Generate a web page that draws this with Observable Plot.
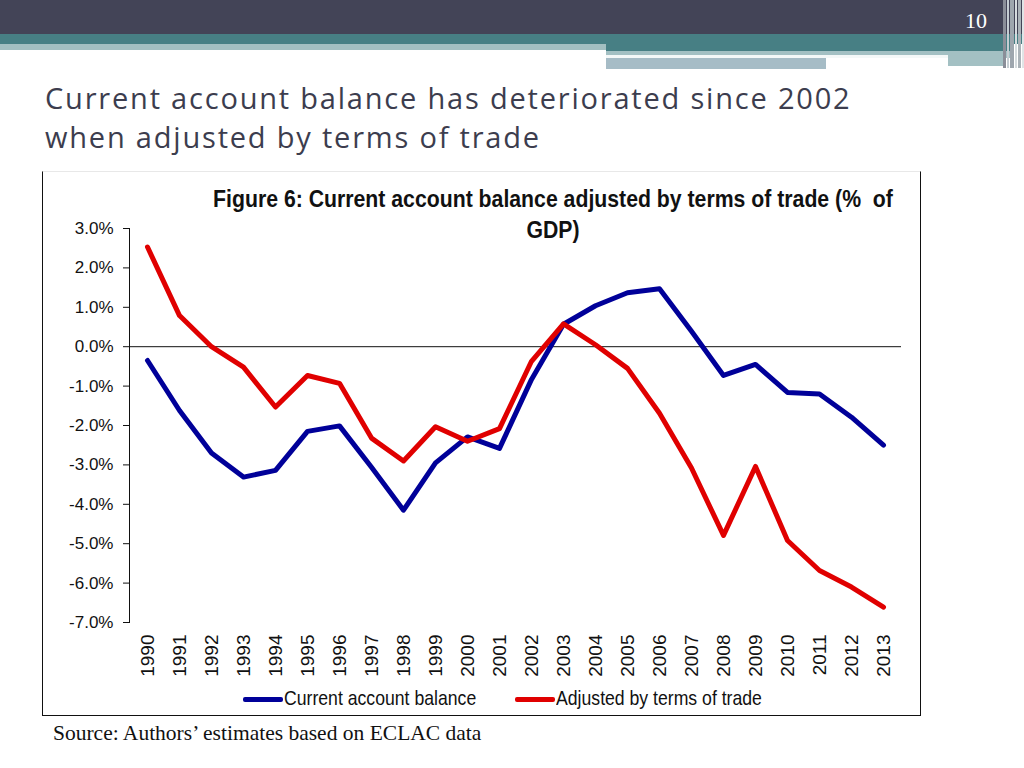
<!DOCTYPE html>
<html>
<head>
<meta charset="utf-8">
<script src="https://cdn.jsdelivr.net/npm/d3@7"></script>
<script src="https://cdn.jsdelivr.net/npm/@observablehq/plot@0.6"></script>
<style>
  html, body { margin: 0; padding: 0; background: #fff; }
  body { width: 1024px; height: 768px; position: relative; overflow: hidden; }
  .abs { position: absolute; }
  #title { left: 45px; top: 78px; font-family: "Open Sans", sans-serif; font-size: 29px; line-height: 39px; letter-spacing: 1.8px; color: #3c3d4e; white-space: nowrap; }
  #box { left: 42px; top: 171px; width: 877px; height: 543px; border: 1px solid #111; border-top-color: #e8e8e8; background: #fff; }
  .ctitle { font-family: "Liberation Sans", Arial, sans-serif; font-weight: bold; font-size: 24px; color: #111; white-space: pre; text-align: center; width: 1000px; transform: scaleX(0.885); transform-origin: center; }
  .leg { font-family: "Liberation Sans", Arial, sans-serif; font-size: 21px; color: #111; white-space: nowrap; transform: scaleX(0.84); transform-origin: left center; }
  .sw { height: 5px; border-radius: 2px; }
  #source { left: 53px; top: 721px; font-family: "Liberation Serif", serif; font-size: 21.5px; color: #111; white-space: nowrap; }
  #plot svg text { fill: #111; }
</style>
</head>
<body>
<!-- slide decorations -->
<div class="abs" style="left:0;top:0;width:1024px;height:34px;background:#434457"></div>
<div class="abs" style="left:0;top:34px;width:1024px;height:10px;background:#477f84"></div>
<div class="abs" style="left:0;top:44px;width:606px;height:6px;background:#a3bfc1"></div>
<div class="abs" style="left:606px;top:44px;width:406px;height:7px;background:#477f84"></div>
<div class="abs" style="left:606px;top:51px;width:406px;height:7px;background:#a3c0c3"></div>
<div class="abs" style="left:606px;top:55px;width:342px;height:3px;background:#f4f8f8"></div>
<div class="abs" style="left:606px;top:58px;width:220px;height:11px;background:#a6bcc6"></div>
<div class="abs" style="left:948px;top:58px;width:57px;height:8px;background:#a3c0c3"></div>
<div class="abs" style="left:1003px;top:0;width:3px;height:68px;background:#8a8e98"></div>
<div class="abs" style="left:1007px;top:0;width:2px;height:68px;background:#c5cdd2"></div>
<div class="abs" style="left:1010px;top:0;width:4px;height:68px;background:#9ea6ae"></div>
<div class="abs" style="left:1015px;top:0;width:2px;height:68px;background:#d6dcdf"></div>
<div class="abs" style="left:1018px;top:0;width:3px;height:68px;background:#aab2b8"></div>
<div class="abs" style="left:1022px;top:0;width:2px;height:68px;background:#e0e4e6"></div>
<div class="abs" style="left:965px;top:8px;font-family:'Liberation Serif',serif;font-size:22px;color:#fff;">10</div>

<div id="title" class="abs">Current account balance has deteriorated since 2002<br>when adjusted by terms of trade</div>

<div id="box" class="abs">
  <div class="abs ctitle" style="left:10px;top:13px;">Figure 6: Current account balance adjusted by terms of trade (%  of</div>
  <div class="abs ctitle" style="left:10px;top:44px;">GDP)</div>
  <div id="plot" class="abs" style="left:0;top:0;"></div>
  <div class="abs sw" style="left:200px;top:525px;width:40px;background:#000099"></div>
  <div class="abs leg" style="left:241px;top:514px;">Current account balance</div>
  <div class="abs sw" style="left:472px;top:525px;width:40px;background:#e00000"></div>
  <div class="abs leg" style="left:513px;top:514px;">Adjusted by terms of trade</div>
</div>

<div id="source" class="abs">Source: Authors’ estimates based on ECLAC data</div>

<script>
const years = [1990,1991,1992,1993,1994,1995,1996,1997,1998,1999,2000,2001,2002,2003,2004,2005,2006,2007,2008,2009,2010,2011,2012,2013];
const currentAccount = [-0.35,-1.62,-2.70,-3.31,-3.14,-2.15,-2.01,-3.06,-4.15,-2.95,-2.29,-2.58,-0.83,0.57,1.04,1.37,1.47,0.39,-0.73,-0.45,-1.16,-1.20,-1.79,-2.50];
const adjustedTot = [2.53,0.79,0.00,-0.52,-1.53,-0.73,-0.93,-2.32,-2.90,-2.03,-2.40,-2.08,-0.37,0.58,0.05,-0.55,-1.69,-3.08,-4.79,-3.04,-4.92,-5.68,-6.10,-6.61];
const yTicks = [3,2,1,0,-1,-2,-3,-4,-5,-6,-7];
const seriesNames = ["Current account balance", "Adjusted by terms of trade"];
const seriesColors = ["#000099", "#e00000"];

const rows = [];
years.forEach((yr, i) => {
  rows.push({year: yr, value: currentAccount[i], series: seriesNames[0]});
  rows.push({year: yr, value: adjustedTot[i], series: seriesNames[1]});
});

const chart = Plot.plot({
  width: 877,
  height: 510,
  marginLeft: 86,
  marginRight: 19,
  marginTop: 56,
  marginBottom: 60,
  style: {fontFamily: "'Liberation Sans', Arial, sans-serif", fontSize: "17px", color: "#111", background: "transparent"},
  x: {type: "point", domain: years, padding: 0.5, label: null},
  y: {domain: [-7, 3], label: null},
  color: {domain: seriesNames, range: seriesColors},
  marks: [
    Plot.frame({anchor: "left", stroke: "#111"}),
    Plot.ruleY([0], {stroke: "#111", strokeWidth: 1}),
    Plot.axisY({ticks: yTicks, tickFormat: d => d.toFixed(1) + "%", tickSize: 6, tickPadding: 10, stroke: "#111", fontSize: 17, label: null}),
    Plot.axisX({ticks: years, tickFormat: d => String(d), tickRotate: -90, tickSize: 0, tickPadding: 12, fontSize: 19, label: null}),
    Plot.line(rows, {x: "year", y: "value", z: "series", stroke: "series", strokeWidth: 5, strokeLinejoin: "round", strokeLinecap: "round"})
  ]
});
document.getElementById("plot").appendChild(chart);
</script>
</body>
</html>
